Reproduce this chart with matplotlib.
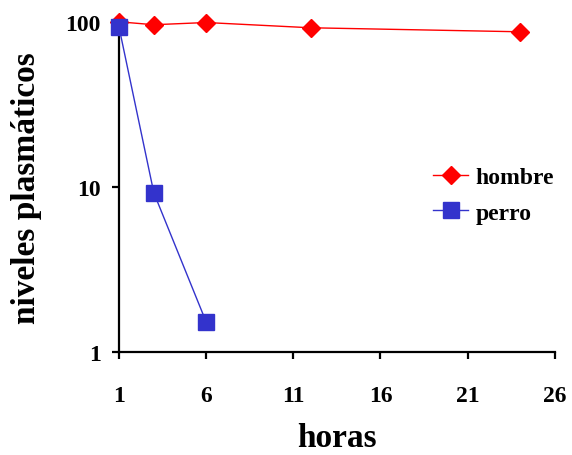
import matplotlib
matplotlib.use("Agg")
import matplotlib.pyplot as plt
from matplotlib.ticker import FixedLocator, FixedFormatter, NullLocator

# data
horas_hombre = [1, 3, 6, 12, 24]
niveles_hombre = [100, 96, 99, 92, 87]
horas_perro = [1, 3, 6]
niveles_perro = [93, 9.2, 1.52]
xticks = [1, 6, 11, 16, 21, 26]
yticks = [1, 10, 100]
ytick_labels = ["1", "10", "100"]

plt.rcParams["font.family"] = ["Liberation Serif", "DejaVu Serif"]
plt.rcParams["font.weight"] = "bold"


def make_chart():
    fig = plt.figure(figsize=(5.72, 4.56), dpi=100)
    ax = fig.add_axes([0.208, 0.226, 0.762, 0.724])

    ax.plot(horas_hombre, niveles_hombre, color="#FF0000", lw=1,
            marker="D", markersize=9.5, label="hombre", clip_on=False, zorder=3)
    ax.plot(horas_perro, niveles_perro, color="#3333CC", lw=1,
            marker="s", markersize=11, label="perro", clip_on=False, zorder=4)

    ax.set_yscale("log")
    ax.set_xlim(1, 26)
    ax.set_ylim(1, 100)
    ax.xaxis.set_major_locator(FixedLocator(xticks))
    ax.yaxis.set_major_locator(FixedLocator(yticks))
    ax.yaxis.set_major_formatter(FixedFormatter(ytick_labels))
    ax.yaxis.set_minor_locator(NullLocator())

    for side in ["top", "right"]:
        ax.spines[side].set_visible(False)
    for side in ["left", "bottom"]:
        ax.spines[side].set_linewidth(1.6)

    ax.tick_params(axis="x", direction="out", length=5, width=1.6,
                   labelsize=17, pad=19)
    ax.tick_params(axis="y", direction="out", length=5, width=1.6,
                   labelsize=17, pad=8)
    for lbl in ax.get_xticklabels() + ax.get_yticklabels():
        lbl.set_fontweight("bold")

    ax.set_xlabel("horas", fontsize=24, fontweight="bold", labelpad=11)
    ax.set_ylabel("niveles plasmáticos", fontsize=24, fontweight="bold",
                  labelpad=17)

    leg = fig.legend(loc="center left", bbox_to_anchor=(0.757, 0.570),
                     frameon=False, fontsize=17, handlelength=1.5,
                     handletextpad=0.3, labelspacing=0.6, borderpad=0,
                     borderaxespad=0)
    for t in leg.get_texts():
        t.set_fontweight("bold")

    fig.savefig("out.png", dpi=100)


make_chart()
